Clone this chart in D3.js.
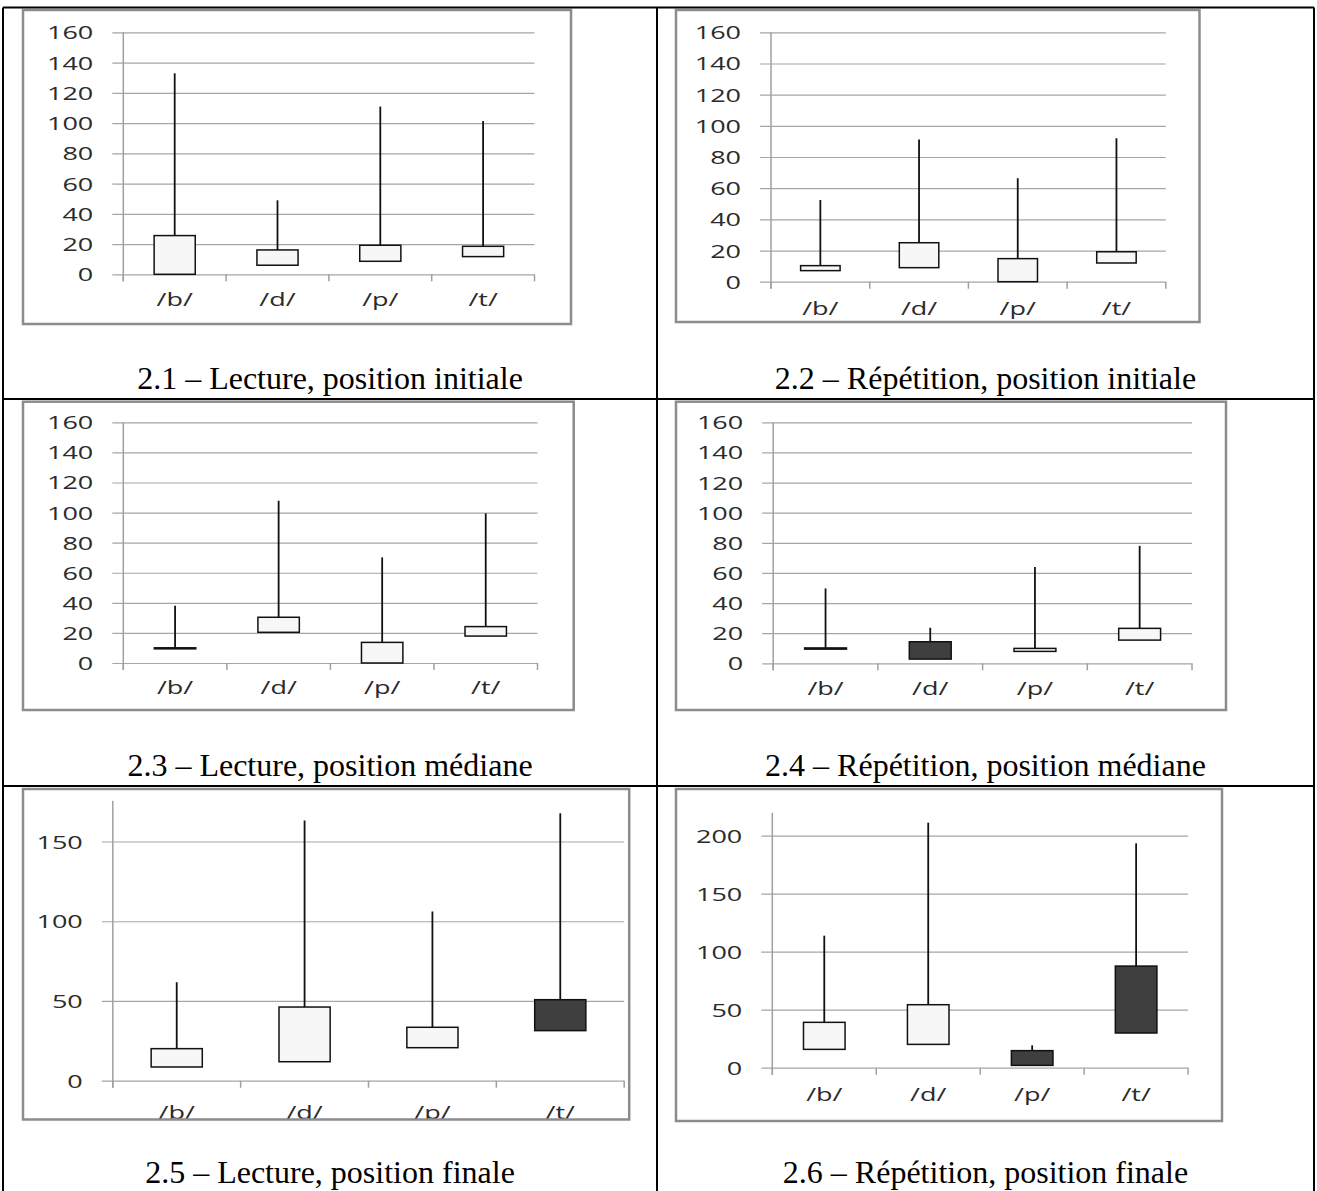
<!DOCTYPE html>
<html>
<head>
<meta charset="utf-8">
<script src="https://cdn.jsdelivr.net/npm/d3@7"></script>
<style>
  body { margin: 0; background: #fff; }
  svg { display: block; }
</style>
</head>
<body>
<svg id="viz_svg01" width="1317" height="1191"></svg>
<script>
// Categories shared by every panel.
const categories = ["/b/", "/d/", "/p/", "/t/"];

// Captions under each panel, in reading order.
const captions = [
    "2.1 – Lecture, position initiale",
    "2.2 – Répétition, position initiale",
    "2.3 – Lecture, position médiane",
    "2.4 – Répétition, position médiane",
    "2.5 – Lecture, position finale",
    "2.6 – Répétition, position finale"
];

// Stock chart values, one row per panel (open, close, low, high).
const openVals = [
    [0, 6, 8.6, 11.7],
    [7.1, 9, 0, 12],
    [10.1, 20.4, 0, 17.9],
    [10.2, 14.3, 7.9, 15.4],
    [8.6, 11.9, 20.7, 50.8],
    [15.8, 20.1, 14.7, 87.6]
];
const closeVals = [
    [25.6, 16.1, 19.2, 18.5],
    [10.3, 25, 14.8, 19.2],
    [9.4, 30.4, 13.7, 24.2],
    [9.4, 2.8, 9.9, 23.2],
    [20.1, 46.2, 33.5, 31.4],
    [39.1, 54.3, 2, 29.9]
];
const lowVals = [
    [0, 6, 8.6, 11.7],
    [7.1, 9, 0, 12],
    [9.4, 20.4, 0, 17.9],
    [9.4, 2.8, 7.9, 15.4],
    [8.6, 11.9, 20.7, 31.4],
    [15.8, 20.1, 2, 29.9]
];
const highVals = [
    [132.9, 48.9, 110.9, 101.4],
    [52.4, 91.3, 66.3, 92],
    [38.1, 107.9, 70.2, 99.5],
    [49.7, 23.6, 64, 78],
    [61.7, 163.2, 106.1, 167.8],
    [113.8, 211.2, 19.3, 193.4]
];

// Y axis tick labels and the top of each value axis.
const ticks160 = [0, 20, 40, 60, 80, 100, 120, 140, 160];
const yTicks = [ticks160, ticks160, ticks160, ticks160, [0, 50, 100, 150], [0, 50, 100, 150, 200]];
const yMax = [160, 160, 160, 160, 175.6, 219.8];

// Where each panel sits on the page (frame box, plot edges, caption line).
const panels = [
    {frame: [23, 10, 571, 324],     axisX: 123.3, right: 534.5,  top: 32.3,  base: 274.3,  labDy: 32, capX: 330,   capY: 389},
    {frame: [676, 10, 1199.5, 322], axisX: 771,   right: 1165.8, top: 32.3,  base: 281.7,  labDy: 33, capX: 985.5, capY: 389},
    {frame: [23, 401.7, 573.7, 710],  axisX: 123.3, right: 537.5, top: 422.3, base: 663,   labDy: 31, capX: 330,   capY: 776},
    {frame: [676, 401.7, 1226, 710],  axisX: 773.2, right: 1192,  top: 422.3, base: 663.3, labDy: 32, capX: 985.5, capY: 776},
    {frame: [23, 789, 629.2, 1119.5], axisX: 112.8, right: 624.2, top: 800.7, base: 1080.7, labDy: 38, capX: 330,   capY: 1183},
    {frame: [676, 789, 1222, 1121],   axisX: 772.3, right: 1188.1, top: 812.7, base: 1067.7, labDy: 33, capX: 985.5, capY: 1183}
];

// Text in the pasted charts is stretched sideways.
const stretch = 1.5;
const labelSize = 18;
const tickLen = 11;
const labelGap = 30;

document.addEventListener("DOMContentLoaded", function(){
    let svg = d3.select("#viz_svg01");
    svg.append("rect").attr("width", 1317).attr("height", 1191).attr("fill", "#fff");

    for(let i = 0; i < panels.length; i++){
        drawPanel(svg, i);
    }
    drawTable(svg);
});

// drawPanel draws one stock chart and its caption.
function drawPanel(svg, i){
    const p = panels[i];
    const [fx0, fy0, fx1, fy1] = p.frame;

    // Clip everything to the chart frame (labels in 2.5 are cut by it).
    svg.append("clipPath").attr("id", "clip" + i)
        .append("rect")
        .attr("x", fx0).attr("y", fy0)
        .attr("width", fx1 - fx0).attr("height", fy1 - fy0);

    let body = svg.append("g").attr("clip-path", `url(#clip${i})`);

    let y = d3.scaleLinear().domain([0, yMax[i]]).range([p.base, p.top]);
    let x = d3.scaleBand().domain(categories).range([p.axisX, p.right]).padding(0);
    const bw = x.bandwidth();

    // Gridlines and value labels
    let ya = body.append("g")
        .attr("transform", `translate(${p.axisX - tickLen}, 0)`)
        .call(d3.axisLeft(y).tickValues(yTicks[i]).tickSize(-(p.right - p.axisX + tickLen)).tickPadding(0))
        .attr("font-family", "'Open Sans', sans-serif")
        .attr("font-size", labelSize);
    ya.select(".domain").remove();
    ya.selectAll(".tick line")
        .attr("stroke", "#a6a6a6")
        .attr("stroke-width", 1.2);
    ya.selectAll(".tick text")
        .attr("x", -(labelGap - tickLen) / stretch)
        .attr("dy", "0.36em")
        .attr("transform", `scale(${stretch}, 1)`)
        .attr("fill", "#2b2b2b");

    // Value axis line
    body.append("line")
        .attr("x1", p.axisX).attr("x2", p.axisX)
        .attr("y1", p.top).attr("y2", p.base + 7)
        .attr("stroke", "#a0a0a0").attr("stroke-width", 1.5);

    // Category tick marks at band edges
    const edges = categories.map(c => x(c)).concat([x.range()[1]]);
    body.selectAll(".catTick").data(edges).enter()
        .append("line")
        .attr("x1", d => d).attr("x2", d => d)
        .attr("y1", p.base).attr("y2", p.base + 7)
        .attr("stroke", "#a0a0a0").attr("stroke-width", 1.5);

    // Category labels
    body.selectAll(".catLabel").data(categories).enter()
        .append("text")
        .attr("transform", c => `translate(${x(c) + bw / 2}, ${p.base + p.labDy}) scale(${stretch}, 1)`)
        .attr("text-anchor", "middle")
        .attr("font-family", "'Open Sans', sans-serif")
        .attr("font-size", labelSize)
        .attr("fill", "#2b2b2b")
        .text(c => c);

    // High-low lines
    body.selectAll(".hl").data(categories).enter()
        .append("line")
        .attr("x1", c => x(c) + bw / 2).attr("x2", c => x(c) + bw / 2)
        .attr("y1", (c, j) => y(lowVals[i][j]))
        .attr("y2", (c, j) => y(highVals[i][j]))
        .attr("stroke", "#111").attr("stroke-width", 1.8);

    // Open-close boxes: light when rising, dark when falling
    body.selectAll(".oc").data(categories).enter()
        .append("rect")
        .attr("x", c => x(c) + bw * 0.3)
        .attr("width", bw * 0.4)
        .attr("y", (c, j) => y(Math.max(openVals[i][j], closeVals[i][j])))
        .attr("height", (c, j) => Math.abs(y(openVals[i][j]) - y(closeVals[i][j])))
        .attr("fill", (c, j) => closeVals[i][j] < openVals[i][j] ? "#3f3f3f" : "#f7f7f7")
        .attr("stroke", "#111").attr("stroke-width", 1.5);

    // Chart frame
    svg.append("rect")
        .attr("x", fx0).attr("y", fy0)
        .attr("width", fx1 - fx0).attr("height", fy1 - fy0)
        .attr("fill", "none")
        .attr("stroke", "#8c8c8c").attr("stroke-width", 2.5);

    // Caption
    svg.append("text")
        .attr("x", p.capX).attr("y", p.capY)
        .attr("text-anchor", "middle")
        .attr("font-family", "'Liberation Serif', 'Times New Roman', serif")
        .attr("font-size", 32)
        .attr("fill", "#000")
        .text(captions[i]);
}

// drawTable draws the black cell borders around the panels.
function drawTable(svg){
    const rule = (x1, y1, x2, y2) => svg.append("line")
        .attr("x1", x1).attr("y1", y1).attr("x2", x2).attr("y2", y2)
        .attr("stroke", "#000").attr("stroke-width", 2);
    rule(3, 7.5, 1314, 7.5);
    rule(3, 399, 1314, 399);
    rule(3, 786, 1314, 786);
    rule(3, 7.5, 3, 1191);
    rule(657, 7.5, 657, 1191);
    rule(1314, 7.5, 1314, 1191);
}
</script>
</body>
</html>
